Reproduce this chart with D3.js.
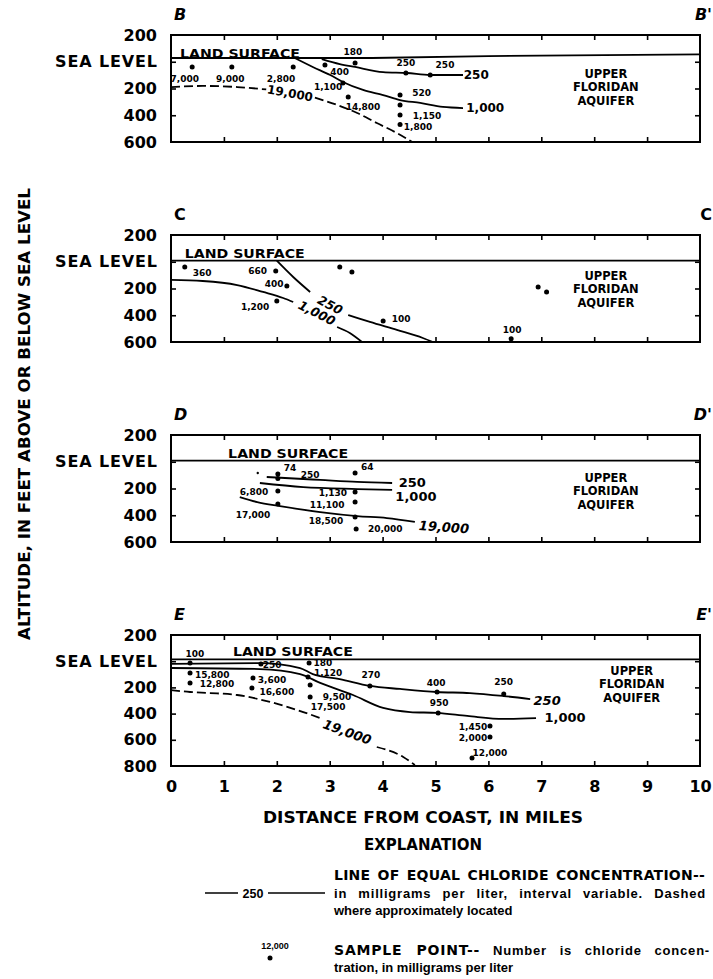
<!DOCTYPE html>
<html lang="en">
<head>
<meta charset="UTF-8">
<title>Chloride concentration sections, Upper Floridan aquifer</title>
<script src="https://d3js.org/d3.v7.min.js"></script>
<style>
    body { margin: 0; background: #fff; }
    svg text { font-family: "DejaVu Sans", sans-serif; font-weight: bold; fill: #000; }
    .frame { fill: none; stroke: #000; stroke-width: 2; }
    .land { fill: none; stroke: #000; stroke-width: 1.8; }
    .contour { fill: none; stroke: #000; stroke-width: 1.8; }
    .dashed { stroke-dasharray: 9 4; }
    .tick line { stroke: #000; stroke-width: 1.6; }
    .legend text { font-family: "Liberation Sans", Arial, sans-serif; }
    .legend tspan.caps { font-family: "DejaVu Sans", sans-serif; }
</style>
</head>
<body>
<svg id="canvas" width="713" height="979"></svg>

<script>
// distance ticks (miles) and depth ticks (feet below sea level, negative = above)
const xTicks = [0, 1, 2, 3, 4, 5, 6, 7, 8, 9, 10];
const depthTicks = [-200, 0, 200, 400, 600];
const depthTicksE = [-200, 0, 200, 400, 600, 800];

// samples: [miles, feet, chloride label, label miles, label feet]
const bLand = [[0, -28], [3.8, -28], [6, -42], [10, -55]];
const bSamples = [
    [0.40, 39, "7,000", 0.26, 129],
    [1.15, 39, "9,000", 1.12, 129],
    [2.31, 39, "2,800", 2.08, 129],
    [2.91, 24, "400", 3.19, 77],
    [3.48, 9, "180", 3.44, -73],
    [3.25, 159, "1,100", 2.97, 189],
    [3.35, 264, "14,800", 3.63, 338],
    [4.33, 249, "520", 4.74, 234],
    [4.33, 323, "", 0, 0],
    [4.33, 398, "1,150", 4.84, 406],
    [4.33, 470, "1,800", 4.67, 488],
    [4.44, 84, "250", 4.44, 9],
    [4.90, 99, "250", 5.18, 24]
];
const b250 = [[2.85, -20], [3.19, 17], [3.48, 39], [4.01, 77], [4.46, 84], [4.90, 99], [5.52, 99]];
const b1000 = [[2.34, -28], [2.68, 39], [3.01, 99], [3.25, 151], [3.63, 211], [4.01, 249], [4.33, 286], [4.71, 308], [5.14, 338], [5.52, 346]];
const b19000a = [[0, 189], [0.60, 181], [1.25, 189], [1.80, 207]];
const b19000b = [[2.72, 268], [3.14, 323], [3.52, 383], [3.89, 458], [4.27, 533], [4.56, 600]];
const bLineLabels = [["250", 5.77, 99], ["1,000", 5.94, 346], ["19,000", 2.25, 234]];

const cLand = [[0, -8], [10, -8]];
const cSamples = [
    [0.26, 39, "360", 0.59, 84],
    [1.98, 69, "660", 1.64, 69],
    [2.19, 181, "400", 1.95, 166],
    [2.00, 293, "1,200", 1.59, 338],
    [3.19, 39, "", 0, 0],
    [3.42, 77, "", 0, 0],
    [4.01, 443, "100", 4.35, 428],
    [6.94, 189, "", 0, 0],
    [7.10, 227, "", 0, 0],
    [6.43, 575, "100", 6.45, 506]
];
const c250a = [[2.00, -8], [2.31, 114], [2.63, 226]];
const c250b = [[3.35, 398], [3.76, 450], [4.27, 510], [4.76, 570], [4.95, 600]];
const c1000a = [[0, 136], [0.60, 144], [1.25, 174], [1.74, 226], [2.12, 271], [2.31, 301]];
const c1000b = [[3.14, 488], [3.38, 533], [3.61, 600]];
const cLineLabels = [["250", 3.01, 323], ["1,000", 2.76, 383]];

const dLand = [[0, -8], [10, -8]];
const dSamples = [
    [1.64, 84, "", 0, 0],
    [2.02, 92, "74", 2.25, 47],
    [2.02, 125, "250", 2.63, 99],
    [3.48, 84, "64", 3.71, 39],
    [2.02, 219, "6,800", 1.57, 226],
    [3.48, 226, "1,130", 3.06, 234],
    [3.48, 301, "11,100", 2.95, 323],
    [2.02, 316, "17,000", 1.55, 398],
    [3.48, 413, "18,500", 2.93, 443],
    [3.50, 503, "20,000", 4.05, 503]
];
const d250 = [[1.81, 114], [2.82, 136], [3.52, 151], [4.18, 159]];
const d1000 = [[1.68, 159], [2.50, 189], [3.52, 204], [4.18, 211]];
const d19000 = [[1.30, 264], [1.63, 301], [2.06, 331], [2.82, 376], [3.52, 406], [4.08, 421], [4.61, 450]];
const dLineLabels = [["250", 4.56, 151], ["1,000", 4.63, 256], ["19,000", 5.16, 488]];

const eLand = [[0, -14], [10, -14]];
const eSamples = [
    [0.36, 14, "100", 0.45, -55],
    [0.36, 90, "15,800", 0.78, 105],
    [0.36, 166, "12,800", 0.87, 174],
    [1.70, 22, "250", 1.91, 30],
    [1.55, 128, "3,600", 1.91, 144],
    [1.53, 205, "16,600", 2.00, 235],
    [2.61, 14, "180", 2.87, 12],
    [2.59, 121, "1,120", 2.97, 92],
    [2.63, 182, "17,500", 2.97, 350],
    [2.63, 273, "9,500", 3.14, 273],
    [3.76, 189, "270", 3.78, 105],
    [5.03, 235, "400", 5.01, 166],
    [5.05, 395, "950", 5.07, 319],
    [6.03, 495, "1,450", 5.71, 502],
    [6.03, 579, "2,000", 5.71, 586],
    [5.69, 739, "12,000", 6.03, 701],
    [6.29, 250, "250", 6.29, 159]
];
const e250 = [[0, 20], [1.68, 14], [2.44, 52], [2.68, 98], [3.19, 136], [3.76, 189], [4.33, 212], [5.03, 235], [5.65, 243], [6.29, 266], [6.79, 289]];
const e1000 = [[0, 52], [1.68, 60], [2.44, 98], [2.82, 166], [3.44, 258], [4.01, 357], [4.52, 388], [5.03, 395], [5.60, 418], [6.29, 441], [6.90, 434]];
const e19000a = [[0, 220], [0.36, 235], [0.74, 243], [1.25, 258], [1.87, 311], [2.50, 388], [2.82, 434]];
const e19000b = [[3.89, 655], [4.39, 731], [4.61, 792]];
const eLineLabels = [["250", 7.11, 296], ["1,000", 7.45, 426], ["19,000", 3.33, 540]];

// layout of the four sections
const panels = [
    {left: "B", right: "B'", ital: true, top: 35, h: 107, depth: 600, ticks: depthTicks,
     land: bLand, landText: [0.17, -65], samples: bSamples,
     lines: [[b250, false], [b1000, false], [b19000a, true], [b19000b, true]],
     labels: bLineLabels, rot: [0, 0, 10], lit: [false, false, false], lsize: 12, aquifer: [8.22, 189]},
    {left: "C", right: "C", ital: false, top: 235, h: 107, depth: 600, ticks: depthTicks,
     land: cLand, landText: [0.26, -58], samples: cSamples,
     lines: [[c250a, false], [c250b, false], [c1000a, false], [c1000b, false]],
     labels: cLineLabels, rot: [28, 27], lit: [true, true], lsize: 12.5, aquifer: [8.22, 204]},
    {left: "D", right: "D'", ital: true, top: 435, h: 107, depth: 600, ticks: depthTicks,
     land: dLand, landText: [1.08, -65], samples: dSamples,
     lines: [[d250, false], [d1000, false], [d19000, false]],
     labels: dLineLabels, rot: [0, 0, 4], lit: [false, false, true], lsize: 13, aquifer: [8.22, 219]},
    {left: "E", right: "E'", ital: true, top: 635, h: 131, depth: 800, ticks: depthTicksE,
     land: eLand, landText: [1.17, -72], samples: eSamples,
     lines: [[e250, false], [e1000, false], [e19000a, true], [e19000b, true]],
     labels: eLineLabels, rot: [0, 0, 20], lit: [true, false, true], lsize: 13, aquifer: [8.71, 174]}
];

const svg = d3.select("#canvas");
const x = d3.scaleLinear().domain([0, 10]).range([171, 700]);

panels.forEach(function (p) {
    const y = d3.scaleLinear().domain([-200, p.depth]).range([p.top, p.top + p.h]);
    const g = svg.append("g");
    const line = d3.line().x(d => x(d[0])).y(d => y(d[1]));
    const curve = d3.line().x(d => x(d[0])).y(d => y(d[1])).curve(d3.curveMonotoneX);
    const inner = p.ticks.slice(1, -1);

    // section letters
    g.append("text").attr("x", 174).attr("y", p.top - 21).attr("dy", "0.36em")
        .attr("font-size", 16).attr("font-style", p.ital ? "italic" : null).text(p.left);
    g.append("text").attr("x", 712).attr("y", p.top - 21).attr("dy", "0.36em")
        .attr("text-anchor", "end").attr("font-size", 16)
        .attr("font-style", p.ital ? "italic" : null).text(p.right);

    // inward ticks on all four sides
    const strip = a => a.select(".domain").remove();
    g.append("g").attr("transform", `translate(0,${y(-200)})`)
        .call(d3.axisTop(x).tickValues(xTicks.slice(1, -1)).tickSize(-5).tickFormat("")).call(strip);
    g.append("g").attr("transform", `translate(0,${y(p.depth)})`)
        .call(d3.axisBottom(x).tickValues(xTicks.slice(1, -1)).tickSize(-5).tickFormat("")).call(strip);
    g.append("g").attr("transform", `translate(${x(0)},0)`)
        .call(d3.axisLeft(y).tickValues(inner).tickSize(-5).tickFormat("")).call(strip);
    g.append("g").attr("transform", `translate(${x(10)},0)`)
        .call(d3.axisRight(y).tickValues(inner).tickSize(-5).tickFormat("")).call(strip);

    // altitude labels
    g.append("g").attr("transform", `translate(${x(0)},0)`)
        .call(d3.axisLeft(y).tickValues(p.ticks).tickSize(0).tickPadding(14)
            .tickFormat(d => d === 0 ? "SEA LEVEL" : Math.abs(d)))
        .call(strip)
        .attr("font-size", 16).attr("font-family", null)
        .selectAll("text").filter(d => d === 0).attr("textLength", 102);

    g.append("rect").attr("class", "frame")
        .attr("x", x(0)).attr("y", y(-200))
        .attr("width", x(10) - x(0)).attr("height", y(p.depth) - y(-200));

    // land surface
    g.append("path").attr("class", "land").attr("d", line(p.land));
    g.append("text").attr("x", x(p.landText[0])).attr("y", y(p.landText[1])).attr("dy", "0.36em")
        .attr("font-size", 12.5).attr("textLength", 120).attr("lengthAdjust", "spacingAndGlyphs")
        .text("LAND SURFACE");

    // lines of equal chloride concentration
    p.lines.forEach(function (l) {
        g.append("path").attr("class", l[1] ? "contour dashed" : "contour").attr("d", curve(l[0]));
    });
    p.labels.forEach(function (l, i) {
        g.append("text")
            .attr("transform", `translate(${x(l[1])},${y(l[2])}) rotate(${p.rot[i]})`)
            .attr("text-anchor", "middle").attr("dy", "0.36em")
            .attr("font-size", p.lsize).attr("font-style", p.lit[i] ? "italic" : null)
            .text(l[0]);
    });

    // sample points
    g.selectAll("circle.s").data(p.samples).enter().append("circle").attr("class", "s")
        .attr("cx", d => x(d[0])).attr("cy", d => y(d[1])).attr("r", d => d[2] === "" && d[0] === 1.64 ? 1.2 : 2.5);
    g.selectAll("text.s").data(p.samples.filter(d => d[2] !== "")).enter().append("text").attr("class", "s")
        .attr("x", d => x(d[3])).attr("y", d => y(d[4])).attr("dy", "0.36em")
        .attr("text-anchor", "middle").attr("font-size", 9).text(d => d[2]);

    // aquifer name
    const aq = g.append("text").attr("text-anchor", "middle").attr("font-size", 11.5);
    ["UPPER", "FLORIDAN", "AQUIFER"].forEach(function (w, i) {
        aq.append("tspan").attr("x", x(p.aquifer[0])).attr("y", y(p.aquifer[1]) + (i - 1) * 13.5)
            .attr("dy", "0.36em").text(w);
    });

    if (p.depth === 800) {
        g.append("g").attr("transform", "translate(0,781)")
            .call(d3.axisBottom(x).tickValues(xTicks).tickSize(0).tickPadding(0).tickFormat(d3.format("d")))
            .call(strip)
            .attr("font-size", 16).attr("font-family", null);
    }
});

// axis titles
svg.append("text").attr("transform", "translate(25,414) rotate(-90)")
    .attr("text-anchor", "middle").attr("dy", "0.36em").attr("font-size", 15)
    .attr("textLength", 452).attr("lengthAdjust", "spacingAndGlyphs")
    .text("ALTITUDE, IN FEET ABOVE OR BELOW SEA LEVEL");
svg.append("text").attr("x", 423).attr("y", 818).attr("dy", "0.36em")
    .attr("text-anchor", "middle").attr("font-size", 15)
    .attr("textLength", 320).attr("lengthAdjust", "spacingAndGlyphs")
    .text("DISTANCE FROM COAST, IN MILES");

// explanation
svg.append("text").attr("x", 423).attr("y", 845).attr("dy", "0.36em")
    .attr("text-anchor", "middle").attr("font-size", 15).text("EXPLANATION");
const lg = svg.append("g").attr("class", "legend");
lg.append("line").attr("x1", 205).attr("x2", 238).attr("y1", 893).attr("y2", 893).attr("stroke", "#000").attr("stroke-width", 1.6);
lg.append("line").attr("x1", 268).attr("x2", 325).attr("y1", 893).attr("y2", 893).attr("stroke", "#000").attr("stroke-width", 1.6);
lg.append("text").attr("x", 253).attr("y", 893).attr("dy", "0.36em")
    .attr("text-anchor", "middle").attr("font-size", 12.5).text("250");

// [capital lead-in, rest, y, justified width]
const legendLines = [
    ["LINE OF EQUAL CHLORIDE CONCENTRATION--", "", 875, 371],
    ["", "in milligrams per liter, interval variable. Dashed", 893, 372],
    ["", "where approximately located", 910, 0],
    ["SAMPLE POINT--", " Number is chloride concen-", 950, 376],
    ["", "tration, in milligrams per liter", 967, 0]
];
legendLines.forEach(function (l) {
    const t = lg.append("text").attr("x", 334).attr("y", l[2]).attr("dy", "0.36em").attr("font-size", 13);
    if (l[0]) t.append("tspan").attr("class", "caps").attr("font-size", 14).text(l[0]);
    if (l[1]) t.append("tspan").text(l[1]);
    if (l[3]) {
        // justify: share the extra width between letters and word gaps
        const s = l[0] + l[1];
        const spaces = s.split(" ").length - 1;
        const extra = l[3] - t.node().getComputedTextLength();
        if (extra > 0) {
            const ls = Math.min(0.8, extra * 0.5 / s.length);
            t.style("letter-spacing", ls + "px");
            const rest = l[3] - t.node().getComputedTextLength();
            if (rest > 0 && spaces > 0) t.style("word-spacing", (rest / spaces) + "px");
        }
    }
});
lg.append("text").attr("x", 275).attr("y", 946).attr("dy", "0.36em")
    .attr("text-anchor", "middle").attr("font-size", 9).text("12,000");
lg.append("circle").attr("cx", 270).attr("cy", 958).attr("r", 2.5);
</script>
</body>
</html>
